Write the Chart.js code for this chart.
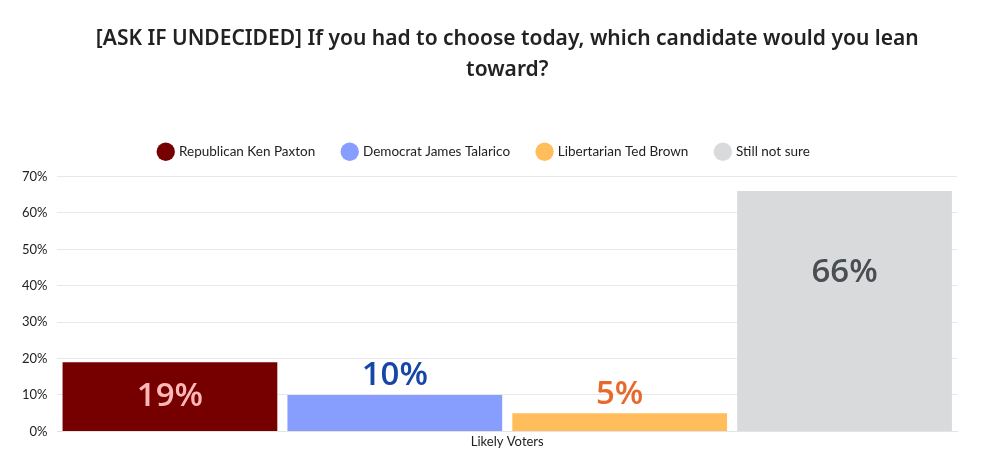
<!DOCTYPE html>
<html lang="en">
  <head>
    <meta charset="UTF-8" />
    <title>Lean toward</title>
    <script src="https://cdn.jsdelivr.net/npm/chart.js"></script>
    <style>
      body {
        margin: 0;
        background: #fff;
      }
      .wrap {
        width: 988px;
        height: 468px;
      }
    </style>
  </head>
  <body>
    <div class="wrap"><canvas id="chart"></canvas></div>
    <script>
      // data
      const categories = ["Likely Voters"];
      const candidates = [
        "Republican Ken Paxton",
        "Democrat James Talarico",
        "Libertarian Ted Brown",
        "Still not sure",
      ];
      const values = [19, 10, 5, 66];
      const yTicks = [0, 10, 20, 30, 40, 50, 60, 70];
      const titleLines = [
        "[ASK IF UNDECIDED] If you had to choose today, which candidate would you lean",
        "toward?",
      ];

      const barColors = ["#760000", "#879eff", "#ffbd5c", "#d9dadc"];
      const labelColors = ["#ffb8b8", "#1747a6", "#e8692c", "#4a4d52"];
      // where each value label sits: "center", "above" or "inside-top"
      const labelPlaces = ["center", "above", "above", "inside-top"];

      const titleFont = "600 21px 'Noto Sans', sans-serif";

      // the title is centred on the plot area, not the canvas
      const centredTitle = {
        id: "centredTitle",
        afterDraw(chart) {
          const ctx = chart.ctx;
          const t = chart.titleBlock;
          const cx = (chart.chartArea.left + chart.chartArea.right) / 2;
          ctx.save();
          ctx.font = titleFont;
          ctx.fillStyle = "#222";
          ctx.textAlign = "center";
          ctx.textBaseline = "middle";
          const lh = 31;
          titleLines.forEach((line, i) => {
            ctx.fillText(line, cx, t.top + 18 + lh / 2 + i * lh);
          });
          ctx.restore();
        },
      };

      // extra room between the legend and the plot
      const legendGap = {
        id: "legendGap",
        beforeInit(chart) {
          const fit = chart.legend.fit;
          chart.legend.fit = function () {
            fit.call(this);
            this.height += 8;
          };
        },
      };

      const valueLabels = {
        id: "valueLabels",
        afterDatasetsDraw(chart) {
          const ctx = chart.ctx;
          ctx.save();
          ctx.font = "600 33px 'Open Sans', sans-serif";
          ctx.textAlign = "center";
          ctx.textBaseline = "middle";
          chart.data.datasets.forEach((ds, i) => {
            const bar = chart.getDatasetMeta(i).data[0];
            const place = labelPlaces[i];
            let y;
            if (place === "center") y = (bar.y + bar.base) / 2;
            else if (place === "above") y = bar.y - 19;
            else y = bar.y + 82;
            ctx.fillStyle = labelColors[i];
            ctx.fillText(ds.data[0] + "%", bar.x, y);
          });
          ctx.restore();
        },
      };

      const ctx = document.getElementById("chart").getContext("2d");
      new Chart(ctx, {
        type: "bar",
        data: {
          labels: categories,
          datasets: candidates.map((name, i) => ({
            label: name,
            data: [values[i]],
            backgroundColor: barColors[i],
            borderWidth: 0,
            categoryPercentage: 1.0,
            barPercentage: 0.955,
          })),
        },
        options: {
          responsive: true,
          maintainAspectRatio: false,
          animation: false,
          layout: { padding: { left: 12, right: 31, top: 6, bottom: 15 } },
          plugins: {
            title: {
              display: true,
              text: titleLines,
              color: "rgba(0,0,0,0)",
              font: { family: "'Noto Sans', sans-serif", size: 20, weight: "600", lineHeight: 1.55 },
              padding: { top: 14, bottom: 35 },
            },
            legend: {
              position: "top",
              labels: {
                usePointStyle: true,
                pointStyle: "circle",
                boxWidth: 13,
                boxHeight: 13,
                padding: 28,
                color: "#222",
                font: { family: "Lato, sans-serif", size: 13.5 },
              },
            },
            tooltip: { enabled: false },
          },
          scales: {
            x: {
              grid: { display: false, drawTicks: false },
              border: { color: "#e4e4e4" },
              ticks: { padding: 3, color: "#222", font: { family: "Lato, sans-serif", size: 13 } },
            },
            y: {
              min: 0,
              max: 70,
              afterBuildTicks: (axis) => {
                axis.ticks = yTicks.map((v) => ({ value: v }));
              },
              grid: { color: "#e8e8e8", drawTicks: false },
              border: { display: false },
              ticks: {
                padding: 10,
                color: "#222",
                font: { family: "Lato, sans-serif", size: 13 },
                callback: (v) => v + "%",
              },
            },
          },
        },
        plugins: [legendGap, centredTitle, valueLabels],
      });
    </script>
  </body>
</html>
